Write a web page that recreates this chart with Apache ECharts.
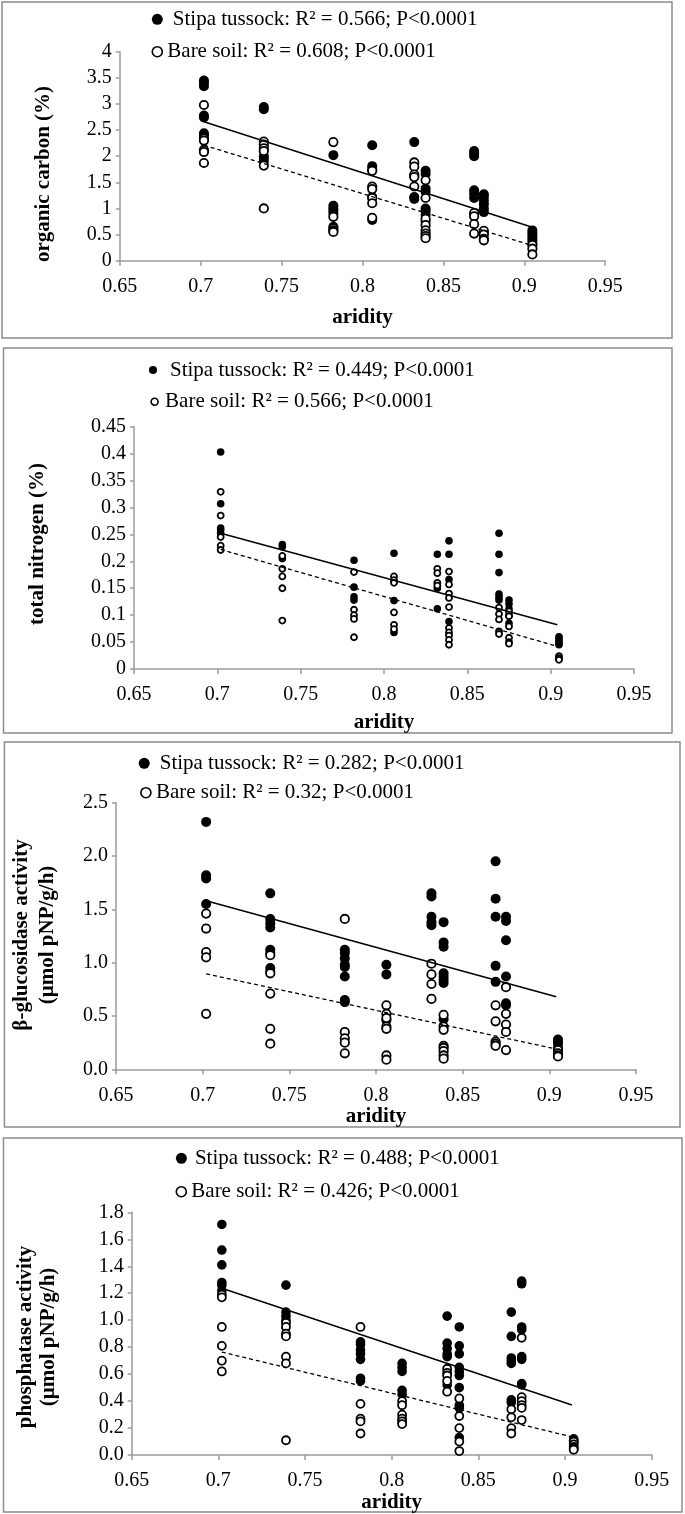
<!DOCTYPE html>
<html><head><meta charset="utf-8">
<script src="https://cdn.jsdelivr.net/npm/echarts@6/dist/echarts.min.js"></script>
<style>html,body{margin:0;padding:0;background:#fff}#c{width:685px;height:1514px}</style>
</head><body><div id="c"></div>
<script>
// ---------- DATA ----------
const aridity = [0.702, 0.739, 0.782, 0.806, 0.832, 0.839, 0.869, 0.875, 0.905];
const xRange = [0.65, 0.95, 0.05];

// Panel 1: organic carbon (%)
const ocRange = [0, 4, 0.5];
const ocTussockName = 'Stipa tussock: R² = 0.566; P<0.0001';
const ocBareName = 'Bare soil: R² = 0.608; P<0.0001';
const ocTussock = [
  [3.45, 3.40, 3.34, 2.78, 2.74, 2.44, 2.40],
  [2.94, 2.90, 2.00, 1.95, 1.90],
  [2.02, 1.05, 1.00, 0.95, 0.90, 0.65],
  [2.21, 1.81, 1.75, 1.22, 0.78],
  [2.27, 1.62, 1.22, 1.18],
  [1.72, 1.66, 1.38, 1.32, 1.00, 0.95, 0.88, 0.75],
  [2.10, 2.05, 2.00, 1.35, 1.28, 1.20],
  [1.27, 1.22, 1.15, 1.08, 1.00, 0.93],
  [0.58, 0.53, 0.48, 0.43, 0.38, 0.33]
];
const ocBare = [
  [2.98, 2.34, 2.30, 2.12, 2.08, 1.87],
  [2.28, 2.22, 2.15, 2.10, 1.82, 1.00],
  [2.27, 0.84, 0.62, 0.58, 0.55],
  [1.72, 1.42, 1.37, 1.20, 1.10, 0.82],
  [1.88, 1.80, 1.65, 1.60, 1.42],
  [1.54, 1.20, 0.80, 0.68, 0.58, 0.52, 0.47, 0.43],
  [0.91, 0.85, 0.70, 0.52],
  [0.57, 0.50, 0.42, 0.39],
  [0.30, 0.23, 0.12]
];
const ocTussockFit = [[0.702, 2.66], [0.904, 0.65]];
const ocBareFit = [[0.702, 2.21], [0.904, 0.30]];

// Panel 2: total nitrogen (%)
const tnRange = [0, 0.45, 0.05];
const tnTussockName = 'Stipa tussock: R² = 0.449; P<0.0001';
const tnBareName = 'Bare soil: R² = 0.566; P<0.0001';
const tnTussock = [
  [0.403, 0.307, 0.262, 0.258, 0.252],
  [0.231, 0.227, 0.205],
  [0.202, 0.152, 0.134, 0.128],
  [0.215, 0.127, 0.068],
  [0.213, 0.150, 0.112],
  [0.238, 0.213, 0.166, 0.088],
  [0.252, 0.213, 0.179, 0.139, 0.133, 0.128],
  [0.128, 0.121, 0.112, 0.100, 0.085],
  [0.060, 0.056, 0.052, 0.048, 0.045]
];
const tnBare = [
  [0.329, 0.285, 0.245, 0.229, 0.221],
  [0.210, 0.186, 0.172, 0.150, 0.090],
  [0.180, 0.110, 0.100, 0.093, 0.059],
  [0.172, 0.165, 0.160, 0.105, 0.082, 0.074],
  [0.186, 0.178, 0.160, 0.155],
  [0.181, 0.157, 0.140, 0.132, 0.115, 0.076, 0.068, 0.062, 0.054, 0.045],
  [0.114, 0.102, 0.092, 0.070, 0.065],
  [0.107, 0.098, 0.079, 0.058, 0.050, 0.047],
  [0.024, 0.020, 0.017]
];
const tnTussockFit = [[0.702, 0.252], [0.904, 0.082]];
const tnBareFit = [[0.702, 0.222], [0.904, 0.042]];

// Panel 3: beta-glucosidase activity
const bgRange = [0, 2.5, 0.5];
const bgTussockName = 'Stipa tussock: R² = 0.282; P<0.0001';
const bgBareName = 'Bare soil: R² = 0.32; P<0.0001';
const bgTussock = [
  [2.32, 1.82, 1.79, 1.55],
  [1.65, 1.41, 1.37, 1.33, 1.12, 1.09, 0.95, 0.92],
  [1.12, 1.09, 1.04, 0.98, 0.96, 0.87, 0.65, 0.63],
  [0.98, 0.89, 0.46],
  [1.65, 1.62, 1.43, 1.38, 1.35],
  [1.38, 1.19, 1.15, 0.90, 0.87, 0.84, 0.81, 0.47],
  [1.95, 1.60, 1.43, 0.97, 0.82],
  [1.43, 1.39, 1.21, 0.87, 0.62, 0.60],
  [0.28, 0.26, 0.24, 0.20]
];
const bgBare = [
  [1.46, 1.32, 1.10, 1.05, 0.52],
  [1.07, 0.90, 0.71, 0.38, 0.24],
  [1.41, 0.35, 0.29, 0.25, 0.15],
  [0.60, 0.52, 0.48, 0.40, 0.38, 0.13, 0.09],
  [0.99, 0.89, 0.80, 0.66],
  [0.51, 0.40, 0.37, 0.22, 0.20, 0.17, 0.13, 0.10],
  [0.60, 0.45, 0.26, 0.24, 0.22],
  [0.77, 0.52, 0.42, 0.35, 0.18],
  [0.18, 0.15, 0.13, 0.12]
];
const bgTussockFit = [[0.702, 1.58], [0.904, 0.68]];
const bgBareFit = [[0.702, 0.895], [0.904, 0.19]];

// Panel 4: phosphatase activity
const phRange = [0, 1.8, 0.2];
const phTussockName = 'Stipa tussock: R² = 0.488; P<0.0001';
const phBareName = 'Bare soil: R² = 0.426; P<0.0001';
const phTussock = [
  [1.71, 1.52, 1.41, 1.28, 1.26, 1.22],
  [1.26, 1.06, 1.03, 1.00],
  [0.84, 0.82, 0.78, 0.75, 0.71, 0.57, 0.55],
  [0.68, 0.65, 0.62, 0.48, 0.45],
  [1.03, 0.83, 0.79, 0.75, 0.73, 0.52],
  [0.95, 0.81, 0.75, 0.65, 0.62, 0.59, 0.50, 0.37, 0.35, 0.13],
  [1.06, 0.88, 0.72, 0.70, 0.68, 0.41, 0.39],
  [1.29, 1.27, 0.95, 0.93, 0.73, 0.71, 0.53, 0.52],
  [0.12, 0.11, 0.09]
];
const phBare = [
  [1.19, 1.17, 0.95, 0.81, 0.70, 0.62],
  [0.98, 0.95, 0.90, 0.88, 0.73, 0.68, 0.11],
  [0.95, 0.38, 0.27, 0.25, 0.16],
  [0.40, 0.37, 0.30, 0.27, 0.25, 0.23],
  [0.64, 0.61, 0.59, 0.55, 0.47],
  [0.42, 0.29, 0.20, 0.10, 0.03],
  [0.34, 0.28, 0.20, 0.16],
  [0.87, 0.43, 0.40, 0.37, 0.35, 0.26],
  [0.10, 0.08, 0.06, 0.05, 0.04]
];
const phTussockFit = [[0.702, 1.237], [0.904, 0.372]];
const phBareFit = [[0.702, 0.764], [0.904, 0.135]];

const xTitle = 'aridity';
const yTitles = [
  ['organic carbon (%)'],
  ['total nitrogen (%)'],
  ['β-glucosidase activity', '(µmol pNP/g/h)'],
  ['phosphatase activity', '(µmol pNP/g/h)']
];

// ---------- LAYOUT / STYLE ----------
const SERIF = '"Liberation Serif", "Times New Roman", serif';
const panels = [
  { range: ocRange, tn: ocTussockName, bn: ocBareName, t: ocTussock, b: ocBare, tf: ocTussockFit, bf: ocBareFit,
    grid: { left: 119.8, top: 51.7, width: 485.4, height: 209 }, dec: null, sym: 10, nameGap: 46,
    box: [2, 2, 670, 336],
    leg: [[151.8, 8.8, 11, 5], [151.5, 41.2, 10, 0]],
    titleX: [43.7], titleY: 174 },
  { range: tnRange, tn: tnTussockName, bn: tnBareName, t: tnTussock, b: tnBare, tf: tnTussockFit, bf: tnBareFit,
    grid: { left: 134, top: 426.7, width: 500, height: 242.3 }, dec: null, sym: 7.6, nameGap: 43,
    box: [3.5, 348, 668.5, 385],
    leg: [[149, 359.5, 8, 8], [150.3, 391.2, 7, 2]],
    titleX: [38], titleY: 544 },
  { range: bgRange, tn: bgTussockName, bn: bgBareName, t: bgTussock, b: bgBare, tf: bgTussockFit, bf: bgBareFit,
    grid: { left: 116, top: 802.7, width: 520, height: 266.6 }, dec: 1, sym: 10, nameGap: 33,
    box: [4.4, 742, 675.6, 385],
    leg: [[138.7, 752.8, 11, 5], [140.1, 782.2, 10, 0]],
    titleX: [22, 48], titleY: 935 },
  { range: phRange, tn: phTussockName, bn: phBareName, t: phTussock, b: phBare, tf: phTussockFit, bf: phBareFit,
    grid: { left: 131.7, top: 1212.3, width: 520, height: 244.4 }, dec: 1, sym: 9.6, nameGap: 31,
    box: [3.5, 1138, 678.5, 374],
    leg: [[175.9, 1147.8, 11, 3], [175.5, 1181.2, 10, 0]],
    titleX: [26, 49], titleY: 1337 }
];

function toPoints(values) {
  const out = [];
  values.forEach((col, i) => col.forEach(v => out.push([aridity[i], v])));
  return out;
}

const grids = [], xAxes = [], yAxes = [], series = [], legends = [], graphics = [];
const axisGray = '#9a9a9a';

panels.forEach((p, i) => {
  grids.push(Object.assign({ containLabel: false }, p.grid));
  xAxes.push({
    type: 'value', gridIndex: i, min: xRange[0], max: xRange[1], interval: xRange[2],
    name: xTitle, nameLocation: 'middle', nameGap: p.nameGap,
    nameTextStyle: { fontFamily: SERIF, fontWeight: 'bold', fontSize: 21, color: '#000' },
    axisLine: { show: true, lineStyle: { color: axisGray, width: 1.5 } },
    axisTick: { show: true, length: 5, lineStyle: { color: axisGray, width: 1.5 } },
    axisLabel: { fontFamily: SERIF, fontSize: 20, color: '#000', margin: 16 },
    splitLine: { show: false }
  });
  yAxes.push({
    type: 'value', gridIndex: i, min: p.range[0], max: p.range[1], interval: p.range[2],
    axisLine: { show: true, lineStyle: { color: axisGray, width: 1.5 } },
    axisTick: { show: true, length: 4, lineStyle: { color: axisGray, width: 1.5 } },
    axisLabel: { fontFamily: SERIF, fontSize: 20, color: '#000', margin: 8,
      formatter: p.dec ? (v => v.toFixed(p.dec)) : null },
    splitLine: { show: false }
  });
  series.push({
    name: p.tn, type: 'scatter', xAxisIndex: i, yAxisIndex: i, z: 2,
    symbol: 'circle', symbolSize: p.sym,
    itemStyle: { color: '#000', opacity: 1 },
    data: toPoints(p.t)
  });
  series.push({
    name: p.bn, type: 'scatter', xAxisIndex: i, yAxisIndex: i, z: 3,
    symbol: 'circle', symbolSize: p.sym - 1.6,
    itemStyle: { color: '#fff', borderColor: '#000', borderWidth: 1.8, opacity: 1 },
    data: toPoints(p.b)
  });
  series.push({
    name: 'fitT' + i, type: 'line', xAxisIndex: i, yAxisIndex: i, z: 4,
    symbol: 'none', silent: true,
    lineStyle: { color: '#000', width: 1.5, type: 'solid' },
    data: p.tf
  });
  series.push({
    name: 'fitB' + i, type: 'line', xAxisIndex: i, yAxisIndex: i, z: 4,
    symbol: 'none', silent: true,
    lineStyle: { color: '#000', width: 1.3, type: [4, 3] },
    data: p.bf
  });
  const [l1, l2] = p.leg;
  legends.push({
    left: l1[0], top: l1[1], padding: 0, itemWidth: l1[2], itemHeight: l1[2], icon: 'circle',
    selectedMode: false,
    data: [{ name: p.tn, itemStyle: { color: '#000', borderWidth: 0 } }],
    textStyle: { fontFamily: SERIF, fontSize: 21, color: '#000', padding: [0, 0, 0, l1[3]] }
  });
  legends.push({
    left: l2[0], top: l2[1], padding: 0, itemWidth: l2[2], itemHeight: l2[2], icon: 'circle',
    selectedMode: false,
    data: [{ name: p.bn, itemStyle: { color: '#fff', borderColor: '#000', borderWidth: 1.6 } }],
    textStyle: { fontFamily: SERIF, fontSize: 21, color: '#000', padding: [0, 0, 0, l2[3]] }
  });
  graphics.push({
    type: 'rect', silent: true, z: -1,
    shape: { x: p.box[0], y: p.box[1], width: p.box[2], height: p.box[3] },
    style: { fill: 'none', stroke: '#8c8c8c', lineWidth: 1.5 }
  });
  yTitles[i].forEach((t, k) => {
    graphics.push({
      type: 'text', silent: true, x: p.titleX[k], y: p.titleY, rotation: Math.PI / 2,
      style: { text: t, font: 'bold 21px ' + SERIF, fill: '#000',
        textAlign: 'center', textVerticalAlign: 'middle', align: 'center', verticalAlign: 'middle' }
    });
  });
});

const chart = echarts.init(document.getElementById('c'), null, { renderer: 'canvas' });
chart.setOption({
  animation: false,
  backgroundColor: '#fff',
  grid: grids, xAxis: xAxes, yAxis: yAxes,
  legend: legends, series: series, graphic: graphics
});
</script>
</body></html>
